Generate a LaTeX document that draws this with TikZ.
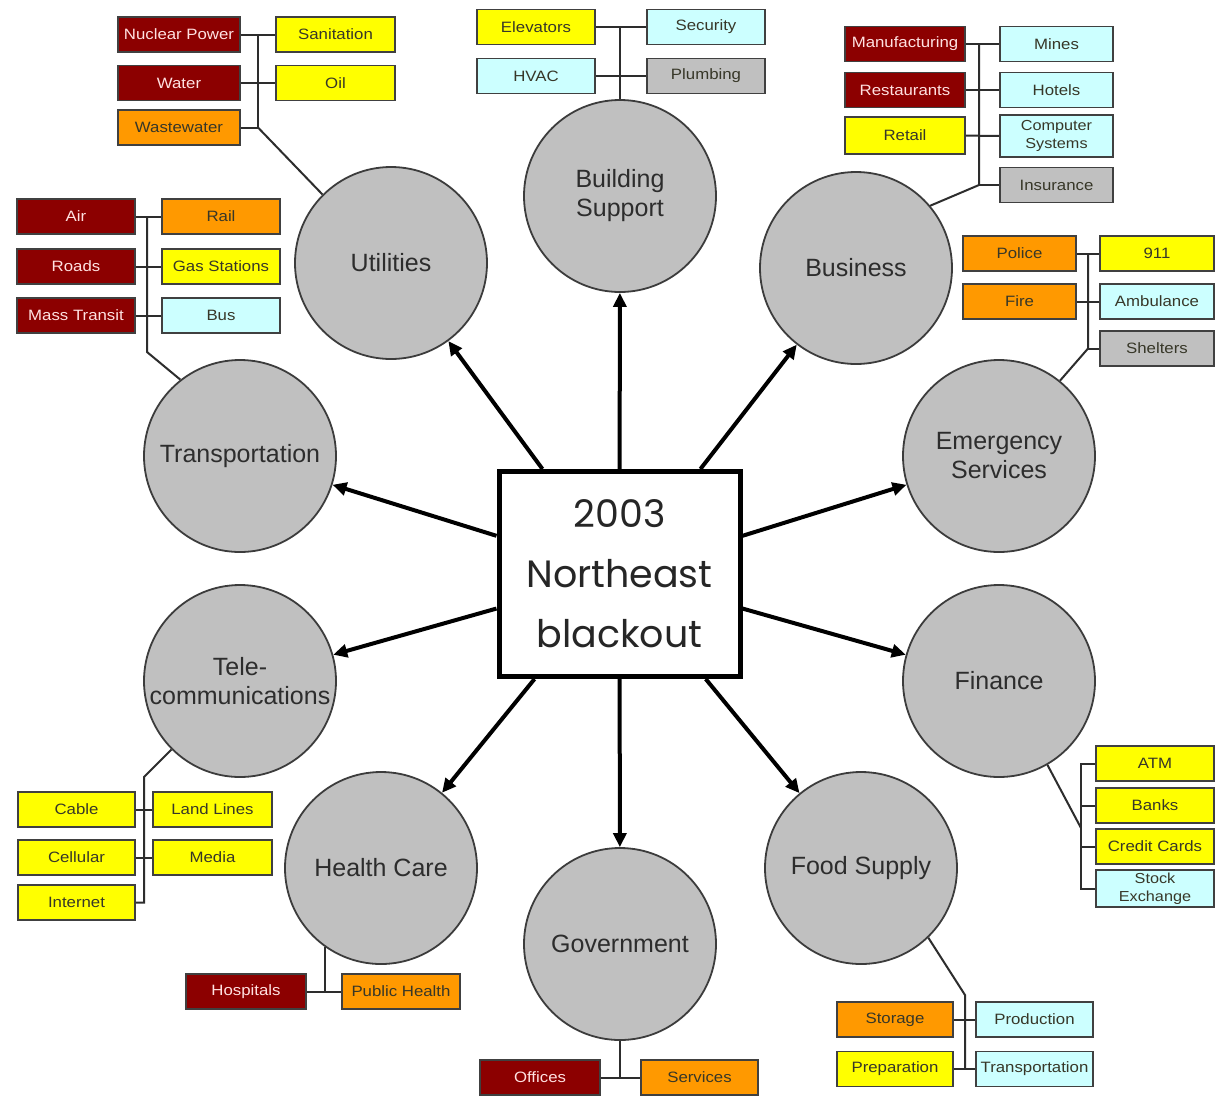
\documentclass[tikz,border=0pt]{standalone}
\usepackage{fontspec}
\setmainfont{Liberation Sans}
\newfontfamily\titlefont{Poppins}
\newfontfamily\boxfont[FakeStretch=1.12]{Liberation Sans}
\usetikzlibrary{arrows.meta}
\definecolor{dred}{RGB}{140,0,0}
\definecolor{yel}{RGB}{255,255,0}
\definecolor{org}{RGB}{255,153,0}
\definecolor{cya}{RGB}{204,255,255}
\definecolor{gry}{RGB}{192,192,192}
\definecolor{cfill}{RGB}{192,192,192}
\definecolor{cborder}{RGB}{60,60,60}
\definecolor{ctext}{RGB}{45,45,45}
\definecolor{btext}{RGB}{55,55,40}
\definecolor{ltext}{RGB}{255,225,225}
\definecolor{linec}{RGB}{45,45,45}
\begin{document}
\begin{tikzpicture}[x=1pt,y=-1pt,
  circ/.style={circle, draw=cborder, line width=1.8pt, fill=cfill, minimum size=192pt, inner sep=0pt, align=center, text=ctext, font=\fontsize{25}{29}\selectfont},
  ctr/.style={draw=black, line width=5pt, fill=white, minimum width=241pt, minimum height=205pt, align=center, text=black!85, font=\titlefont\fontsize{38}{60}\selectfont},
  arr/.style={line width=4pt, black, -{Triangle[length=14pt,width=13pt]}},
  bx/.style={draw=black!75, line width=1.8pt, minimum width=118pt, minimum height=35pt, inner sep=0pt, align=center, text=btext, font=\boxfont\fontsize{15}{17}\selectfont},
  two/.style={font=\boxfont\fontsize{14.5}{18}\selectfont},
  dr/.style={bx, fill=dred, text=ltext},
  yl/.style={bx, fill=yel},
  or/.style={bx, fill=org},
  cy/.style={bx, fill=cya},
  gy/.style={bx, fill=gry},
  conn/.style={draw=linec, line width=2pt}
]
\useasboundingbox (0,0) rectangle (1224,1096);
\fill[white] (0,0) rectangle (1224,1096);

% circles
\node[circ] (bs) at (620,196) {Building\\Support};
\node[circ] (ut) at (391,263) {Utilities};
\node[circ] (bu) at (856,268) {Business};
\node[circ] (tr) at (240,456) {Transportation};
\node[circ] (es) at (999,456) {Emergency\\Services};
\node[circ] (tc) at (240,681) {Tele-\\communications};
\node[circ] (fi) at (999,681) {Finance};
\node[circ] (hc) at (381,868) {Health Care};
\node[circ] (fs) at (861,868) {Food Supply};
\node[circ] (gv) at (620,944) {Government};

% center
\node[ctr] (c) at (619.5,574) {2003\\Northeast\\blackout};
\foreach \t in {bs,ut,bu,tr,es,tc,fi,hc,fs,gv} \draw[arr] (c) -- (\t);

% Utilities
\node[dr, minimum width=122] (np) at (179,34.5) {Nuclear Power};
\node[dr, minimum width=122] (wa) at (179,83) {Water};
\node[or, minimum width=122] (ww) at (179,127.5) {Wastewater};
\node[yl, minimum width=119] (sa) at (335.5,34.5) {Sanitation};
\node[yl, minimum width=119] (oi) at (335.5,83) {Oil};
\coordinate (utj) at (258,127.5);
\draw[conn] (np) -- (sa);
\draw[conn] (wa) -- (oi);
\draw[conn] (ww) -- (utj) -- (utj |- np.east);
\draw[conn] (utj) -- (ut.135);

% Building support
\node[yl] (el) at (536,27) {Elevators};
\node[cy] (hv) at (536,76) {HVAC};
\node[cy] (se) at (706,27) {Security};
\node[gy] (pl) at (706,76) {Plumbing};
\draw[conn] (el) -- (se);
\draw[conn] (hv) -- (pl);
\draw[conn] (bs.north) -- (bs.north |- el.east);

% Business
\node[dr, minimum width=120] (mf) at (905,44) {Manufacturing};
\node[dr, minimum width=120] (rs) at (905,90) {Restaurants};
\node[yl, minimum width=120, minimum height=37] (rt) at (905,135.5) {Retail};
\node[cy, minimum width=113] (mi) at (1056.5,44) {Mines};
\node[cy, minimum width=113] (ho) at (1056.5,90) {Hotels};
\node[cy, minimum width=113, minimum height=42, two] (cs) at (1056.5,136) {Computer\\Systems};
\node[gy, minimum width=113] (ins) at (1056.5,185) {Insurance};
\coordinate (buj) at (979,185);
\draw[conn] (mf) -- (mi);
\draw[conn] (rs) -- (ho);
\draw[conn] (rt) -- (cs);
\draw[conn] (bu.40) -- (buj) -- (buj |- mf.east);
\draw[conn] (buj) -- (ins);

% Transportation
\node[dr] (ai) at (76,216.5) {Air};
\node[dr] (ro) at (76,266.5) {Roads};
\node[dr] (ma) at (76,315.5) {Mass Transit};
\node[or] (ra) at (221,216.5) {Rail};
\node[yl] (ga) at (221,266.5) {Gas Stations};
\node[cy] (bsx) at (221,315.5) {Bus};
\coordinate (trj) at (147,352);
\draw[conn] (ai) -- (ra);
\draw[conn] (ro) -- (ga);
\draw[conn] (ma) -- (bsx);
\draw[conn] (tr.128) -- (trj) -- (trj |- ai.east);

% Emergency services
\node[or, minimum width=113] (po) at (1019.5,253.5) {Police};
\node[or, minimum width=113] (fr) at (1019.5,301.5) {Fire};
\node[yl, minimum width=114] (nn) at (1157,253.5) {911};
\node[cy, minimum width=114] (am) at (1157,301.5) {Ambulance};
\node[gy, minimum width=114] (sh) at (1157,348.5) {Shelters};
\coordinate (esj) at (1088,348.5);
\draw[conn] (po) -- (nn);
\draw[conn] (fr) -- (am);
\draw[conn] (es.51) -- (esj) -- (esj |- po.east);
\draw[conn] (esj) -- (sh);

% Finance
\node[yl] (atm) at (1155,763.5) {ATM};
\node[yl] (bk) at (1155,805.5) {Banks};
\node[yl] (cc) at (1155,846.5) {Credit Cards};
\node[cy, minimum height=37, two] (sx) at (1155,888.5) {Stock\\Exchange};
\coordinate (fij) at (1081,828);
\draw[conn] (fi.-60) -- (fij);
\draw[conn] (atm.west) -- (atm.west -| fij) -- (sx.west -| fij) -- (sx.west);
\draw[conn] (bk.west) -- (bk.west -| fij);
\draw[conn] (cc.west) -- (cc.west -| fij);

% Telecommunications
\node[yl, minimum width=117] (cb) at (76.5,809.5) {Cable};
\node[yl, minimum width=117] (ce) at (76.5,857.5) {Cellular};
\node[yl, minimum width=117] (it) at (76.5,902.5) {Internet};
\node[yl, minimum width=119] (ll) at (212.5,809.5) {Land Lines};
\node[yl, minimum width=119] (me) at (212.5,857.5) {Media};
\coordinate (tcj) at (144,777);
\draw[conn] (cb) -- (ll);
\draw[conn] (ce) -- (me);
\draw[conn] (tc.225) -- (tcj) -- (tcj |- it.east) -- (it.east);

% Health care
\node[dr, minimum width=120] (hp) at (246,991.5) {Hospitals};
\node[or] (ph) at (401,991.5) {Public Health};
\draw[conn] (hp) -- (ph);
\draw[conn] (hc.-125) -- (hc.-125 |- hp.east);

% Government
\node[dr, minimum width=120] (of) at (540,1077.5) {Offices};
\node[or, minimum width=117] (sv) at (699.5,1077.5) {Services};
\draw[conn] (of) -- (sv);
\draw[conn] (gv.south) -- (gv.south |- of.east);

% Food supply
\node[or, minimum width=116] (st) at (895,1019.5) {Storage};
\node[yl, minimum width=116] (pr) at (895,1069) {Preparation};
\node[cy, minimum width=117] (pd) at (1034.5,1019.5) {Production};
\node[cy, minimum width=117] (tp) at (1034.5,1069) {Transportation};
\coordinate (fsj) at (965,995);
\draw[conn] (st) -- (pd);
\draw[conn] (pr) -- (tp);
\draw[conn] (fs.-46) -- (fsj) -- (fsj |- pr.east);
\end{tikzpicture}
\end{document}
